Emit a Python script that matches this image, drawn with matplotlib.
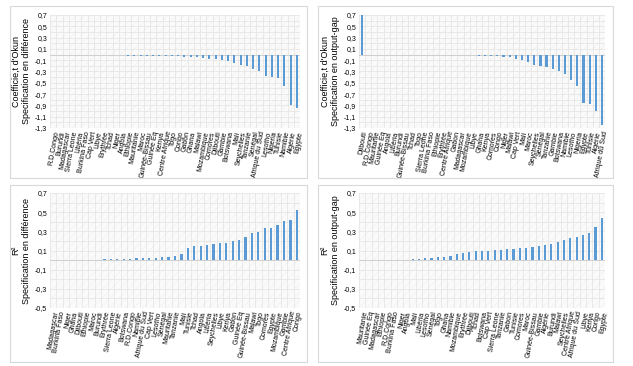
import matplotlib
matplotlib.use("Agg")
import matplotlib.pyplot as plt
from matplotlib.patches import Rectangle
import numpy as np

# ---------------- data ----------------
tl_countries = ["R.D.Congo", "Burundi", "Madagascar", "Sierra Leone", "Libéria", "Burkina Faso",
                "Cap Vert", "Libye", "Erythrée", "Tchad", "Niger", "Angola", "Ethiopie", "Mauritanie",
                "Maroc", "Guinée-Bissau", "Guinée Eq", "Kenya", "Centre Afrique", "Togo", "Congo",
                "Gabon", "Ghana", "Malawi", "Mozambique", "Comores", "Djibouti", "Gambie", "Botswana",
                "Mali", "Seychelles", "Tanzanie", "Sénégal", "Afrique du Sud", "Lesotho", "Nigeria",
                "Tunisie", "Namibie", "Algérie", "Egypte"]
tl_values = [-0.005, -0.006, -0.007, -0.008, -0.009, -0.01, -0.011, -0.012, -0.013, -0.014,
             -0.015, -0.016, -0.017, -0.018, -0.02, -0.022, -0.024, -0.026, -0.028, -0.03,
             -0.032, -0.035, -0.04, -0.05, -0.06, -0.07, -0.08, -0.1, -0.12, -0.15,
             -0.18, -0.2, -0.25, -0.3, -0.38, -0.4, -0.42, -0.55, -0.9, -0.95]

tr_countries = ["Djibouti", "R.D.Congo", "Mauritanie", "Guinée Eq", "Angola", "Libéria", "Burundi",
                "Guinée-Bissau", "Tchad", "Togo", "Sierra Leone", "Burkina Faso", "Ethiopie",
                "Erythrée", "Centre Afrique", "Gabon", "Madagascar", "Mozambique", "Libye", "Ghana",
                "Kenya", "Comores", "Congo", "Niger", "Malawi", "Cap Vert", "Mali", "Maroc",
                "Seychelles", "Sénégal", "Tanzanie", "Gambie", "Botswana", "Namibie", "Lesotho",
                "Nigeria", "Egypte", "Tunisie", "Algérie", "Afrique du Sud"]
tr_values = [0.7, 0.0, 0.0, 0.0, 0.0, 0.0, 0.0, 0.0, 0.0, 0.0,
             -0.005, -0.006, -0.007, -0.008, -0.009, -0.01, -0.012, -0.014, -0.016, -0.018,
             -0.02, -0.025, -0.03, -0.04, -0.05, -0.07, -0.1, -0.14, -0.18, -0.2,
             -0.22, -0.25, -0.3, -0.35, -0.45, -0.55, -0.85, -0.88, -1.0, -1.25]

bl_countries = ["Madagascar", "Burkina Faso", "Niger", "Ghana", "Djibouti", "Ethiopie", "Maroc",
                "Burundi", "Erythrée", "Sierra Leone", "Algérie", "Botswana", "R.D.Congo", "Namibie",
                "Afrique du Sud", "Cap Vert", "Lesotho", "Sénégal", "Mauritanie", "Tanzanie", "Mali",
                "Tunisie", "Tchad", "Angola", "Libéria", "Seychelles", "Libye", "Kenya", "Gabon",
                "Guinée Eq", "Guinée-Bissau", "Malawi", "Togo", "Comores", "Egypte", "Mozambique",
                "Gambie", "Centre Afrique", "Congo"]
bl_values = [0.0, 0.0, 0.0, 0.0, 0.0, 0.001, 0.003, 0.005, 0.007, 0.009,
             0.011, 0.013, 0.015, 0.017, 0.02, 0.023, 0.026, 0.03, 0.035, 0.045,
             0.063, 0.126, 0.15, 0.15, 0.157, 0.164, 0.178, 0.18, 0.2, 0.21,
             0.238, 0.28, 0.29, 0.34, 0.34, 0.367, 0.41, 0.423, 0.52]

br_countries = ["Mauritanie", "Guinée Eq", "Madagascar", "Ethiopie", "R.D.Congo", "Burkina Faso",
                "Niger", "Angola", "Mali", "Libéria", "Lesotho", "Sénégal", "Togo", "Ghana", "Namibie",
                "Mozambique", "Erythrée", "Djibouti", "Tchad", "Botswana", "Cap Vert", "Sierra Leone",
                "Tanzanie", "Gabon", "Tunisie", "Comores", "Maroc", "Guinée-Bissau", "Gambie",
                "Algérie", "Burundi", "Malawi", "Seychelles", "Centre Afrique", "Afrique du Sud",
                "Libye", "Kenya", "Congo", "Egypte"]
br_values = [0.0, 0.0, 0.0, 0.0, 0.0, 0.0, 0.003, 0.006, 0.01, 0.015,
             0.02, 0.025, 0.03, 0.035, 0.045, 0.06, 0.07, 0.08, 0.09, 0.1,
             0.1, 0.105, 0.11, 0.115, 0.12, 0.125, 0.13, 0.14, 0.15, 0.16,
             0.17, 0.19, 0.21, 0.23, 0.24, 0.26, 0.28, 0.35, 0.44]

panels = [
    (tl_countries, tl_values, "Coefficie,t d'Okun\nSpecification en différence", (-1.3, 0.7)),
    (tr_countries, tr_values, "Coefficie,t d'Okun\nSpecification en output-gap", (-1.3, 0.7)),
    (bl_countries, bl_values, "R²\nSpecification en différence", (-0.5, 0.7)),
    (br_countries, br_values, "R²\nSpecification en output-gap", (-0.5, 0.7)),
]

# ---------------- figure ----------------
W, H = 633, 366
fig = plt.figure(figsize=(W / 100, H / 100), dpi=100)
plt.rcParams['font.family'] = ['Liberation Sans', 'DejaVu Sans']
plt.rcParams['hatch.linewidth'] = 0.4

frames = [(10, 6, 307, 178), (318, 6, 613, 178), (10, 185, 307, 362), (318, 185, 613, 362)]
plots = [(50, 15, 300, 128), (359, 15, 605, 128), (50, 193, 300, 308), (359, 193, 605, 308)]

for (x0, y0, x1, y1) in frames:
    fig.patches.append(Rectangle((x0 / W, 1 - y1 / H), (x1 - x0) / W, (y1 - y0) / H,
                                 transform=fig.transFigure, fill=False,
                                 edgecolor='#d9d9d9', linewidth=0.8))

blue = '#5B9BD5'
for (countries, values, ylabel, ylim), (x0, y0, x1, y1) in zip(panels, plots):
    ax = fig.add_axes([x0 / W, 1 - y1 / H, (x1 - x0) / W, (y1 - y0) / H])
    n = len(countries)
    x = np.arange(n)
    ax.set_xlim(-0.5, n - 0.5)
    ax.set_ylim(*ylim)
    # background with light hatch
    ax.add_patch(Rectangle((0, 0), 1, 1, transform=ax.transAxes, facecolor='#fafafa',
                           edgecolor='#efefef', hatch='////', linewidth=0, zorder=0))
    for xi in np.arange(-0.5, n, 1.0):
        ax.axvline(xi, color='#e3e3e3', linewidth=0.5, zorder=1)
    for yi in np.arange(ylim[0], ylim[1] + 0.001, 0.1):
        ax.axhline(yi, color='#e3e3e3', linewidth=0.5, zorder=1)
    ax.axhline(0, color='#cfcfcf', linewidth=0.7, zorder=1)
    ax.bar(x, values, width=0.35, color=blue, zorder=3)
    yt = np.arange(ylim[0], ylim[1] + 0.001, 0.2)
    ax.set_yticks(yt)
    ax.set_yticklabels([("%.1f" % v).replace('.', ',').replace('-0,0', '0,0') for v in yt],
                       fontsize=5)
    ax.set_xticks(x)
    ax.set_xticklabels(countries, rotation=80, fontsize=5, ha='right', rotation_mode='anchor')
    ax.tick_params(length=0, pad=2)
    for s in ax.spines.values():
        s.set_visible(False)
    ax.set_ylabel(ylabel, fontsize=6.5, labelpad=3)

fig.savefig("out.png", dpi=100)
